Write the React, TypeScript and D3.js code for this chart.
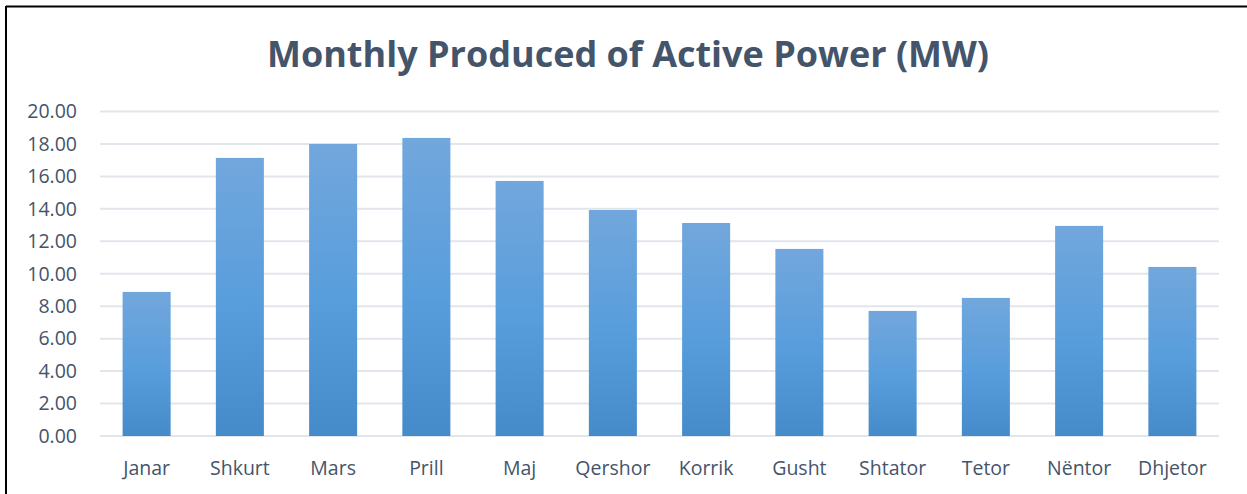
import React from "react";
import * as d3 from "d3";

const months = ["Janar", "Shkurt", "Mars", "Prill", "Maj", "Qershor", "Korrik", "Gusht", "Shtator", "Tetor", "Nëntor", "Dhjetor"];
const values = [8.88, 17.14, 18.0, 18.37, 15.72, 13.93, 13.13, 11.53, 7.71, 8.51, 12.95, 10.42];
const yTicks = [0, 2, 4, 6, 8, 10, 12, 14, 16, 18, 20];
const title = "Monthly Produced of Active Power (MW)";

const W = 1247;
const H = 494;
const left = 100;
const right = 1219;
const top = 111.5;
const bottom = 436;
const textColor = "#44546a";
const font = "'Open Sans', sans-serif";

export default function App() {
  const x = d3.scaleBand<string>().domain(months).range([left, right]).paddingInner(0.485).paddingOuter(0.2425);
  const y = d3.scaleLinear().domain([0, 20]).range([bottom, top]);

  return (
    <svg width={W} height={H} style={{ position: "absolute", left: 0, top: 0, background: "#fff" }}>
      <defs>
        <linearGradient id="barGrad" x1="0" y1="0" x2="0" y2="1">
          <stop offset="0%" stopColor="#72a7dc" />
          <stop offset="55%" stopColor="#579ddc" />
          <stop offset="100%" stopColor="#458ac9" />
        </linearGradient>
      </defs>
      <rect x={0} y={0} width={W} height={H} fill="#fff" />
      <line x1={6} y1={6.5} x2={W} y2={6.5} stroke="#000" strokeWidth={2} />
      <line x1={6} y1={6} x2={6} y2={H} stroke="#000" strokeWidth={2} />
      <text x={628} y={67} textAnchor="middle" fill={textColor} fontFamily={font} fontWeight={700} fontSize={36}>
        {title}
      </text>
      {yTicks.map((t) => (
        <g key={t}>
          <line x1={left} x2={right} y1={y(t)} y2={y(t)} stroke="#e1e5ec" strokeWidth={2} />
          <text x={77} y={y(t)} dy="0.35em" textAnchor="end" fill={textColor} fontFamily={font} fontSize={19.5}>
            {d3.format(".2f")(t)}
          </text>
        </g>
      ))}
      {months.map((m, i) => (
        <rect key={m} x={x(m)} y={y(values[i])} width={x.bandwidth()} height={y(0) - y(values[i])} fill="url(#barGrad)" />
      ))}
      {months.map((m) => (
        <text key={m} x={(x(m) as number) + x.bandwidth() / 2} y={475} textAnchor="middle" fill={textColor} fontFamily={font} fontSize={19.5}>
          {m}
        </text>
      ))}
    </svg>
  );
}
